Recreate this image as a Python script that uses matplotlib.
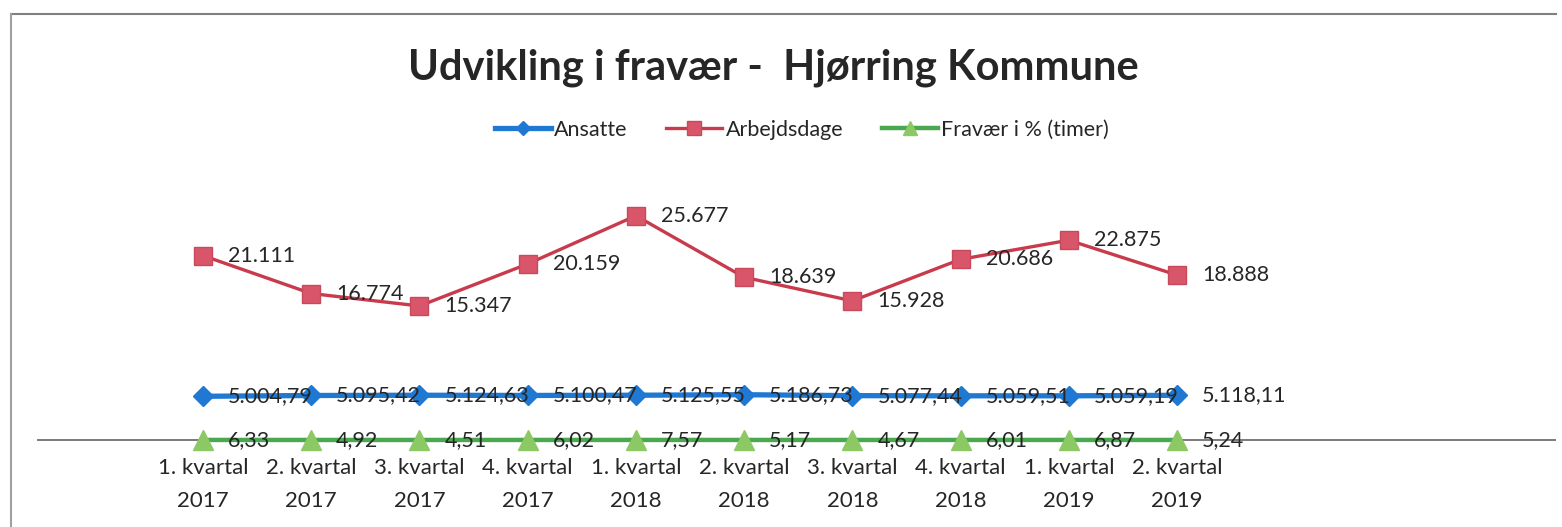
import numpy as np
import matplotlib.pyplot as plt
from matplotlib.lines import Line2D

plt.rcParams['font.family'] = ['Lato', 'DejaVu Sans']

# data
kvartaler = ['1. kvartal\n2017', '2. kvartal\n2017', '3. kvartal\n2017', '4. kvartal\n2017',
             '1. kvartal\n2018', '2. kvartal\n2018', '3. kvartal\n2018', '4. kvartal\n2018',
             '1. kvartal\n2019', '2. kvartal\n2019']
ansatte = [5004.79, 5095.42, 5124.63, 5100.47, 5125.55, 5186.73, 5077.44, 5059.51, 5059.19, 5118.11]
arbejdsdage = [21111, 16774, 15347, 20159, 25677, 18639, 15928, 20686, 22875, 18888]
fravaer = [6.33, 4.92, 4.51, 6.02, 7.57, 5.17, 4.67, 6.01, 6.87, 5.24]

ansatte_lbl = ['5.004,79', '5.095,42', '5.124,63', '5.100,47', '5.125,55',
               '5.186,73', '5.077,44', '5.059,51', '5.059,19', '5.118,11']
arbejdsdage_lbl = ['21.111', '16.774', '15.347', '20.159', '25.677',
                   '18.639', '15.928', '20.686', '22.875', '18.888']
fravaer_lbl = ['6,33', '4,92', '4,51', '6,02', '7,57', '5,17', '4,67', '6,01', '6,87', '5,24']

W, H = 1562, 527
fig = plt.figure(figsize=(W / 100, H / 100), dpi=100)
ax = fig.add_axes([38 / W, 1 - 440 / H, (1555 - 38) / W, (440 - 178) / H])

x = np.arange(len(kvartaler))
ax.plot(x, ansatte, color='#1f78d2', lw=3.8, marker='D', ms=10,
        mfc='#1f78d2', mec='#1f78d2', label='Ansatte', zorder=3, clip_on=False)
ax.plot(x, arbejdsdage, color='#c83a4c', lw=2.4, marker='s', ms=13,
        mfc='#d9566a', mec='#c84a5a', label='Arbejdsdage', zorder=3, clip_on=False)
ax.plot(x, fravaer, color='#4aa84e', lw=3.2, marker='^', ms=14,
        mfc='#8cc864', mec='#8cc864', label='Fravær i % (timer)', zorder=3, clip_on=False)

# data labels
for xs, vals, lbls in [(x, ansatte, ansatte_lbl), (x, arbejdsdage, arbejdsdage_lbl),
                       (x, fravaer, fravaer_lbl)]:
    for xi, v, t in zip(xs, vals, lbls):
        ax.annotate(t, (xi, v), xytext=(18, 0), textcoords='offset points',
                    va='center', ha='left', fontsize=15.5, color='#262626', zorder=4)

ax.set_xlim((38 - 203) / 108.22, (1555 - 203) / 108.22)
ax.set_ylim(0, 30000)
ax.set_xticks(x)
ax.set_xticklabels(kvartaler, fontsize=16, color='#262626')
for t in ax.get_xticklabels():
    t.set_linespacing(1.8)
ax.tick_params(axis='x', length=0, pad=13)
ax.set_yticks([])
for s in ['top', 'left', 'right']:
    ax.spines[s].set_visible(False)
ax.spines['bottom'].set_color('#7a7a7a')
ax.spines['bottom'].set_linewidth(1.4)
ax.patch.set_alpha(0)

fig.text(773 / W, 1 - 68 / H, 'Udvikling i fravær -  Hjørring Kommune',
         ha='center', va='center', fontsize=30, fontweight='bold', color='#262626')

fig.legend(loc='center', bbox_to_anchor=(802 / W, 1 - 130 / H), ncol=3, frameon=False,
           fontsize=15.5, handlelength=2.6, columnspacing=1.8, handletextpad=0.15,
           labelcolor='#262626', markerscale=0.75)

# chart border (scanned frame)
fig.add_artist(Line2D([11 / W, 1556 / W], [1 - 14 / H, 1 - 14 / H], color='#808080', lw=1.5))
fig.add_artist(Line2D([11 / W, 11 / W], [1 - 14 / H, 0], color='#a0a0a0', lw=1.5))

fig.savefig('out.png', dpi=100, facecolor='white')
